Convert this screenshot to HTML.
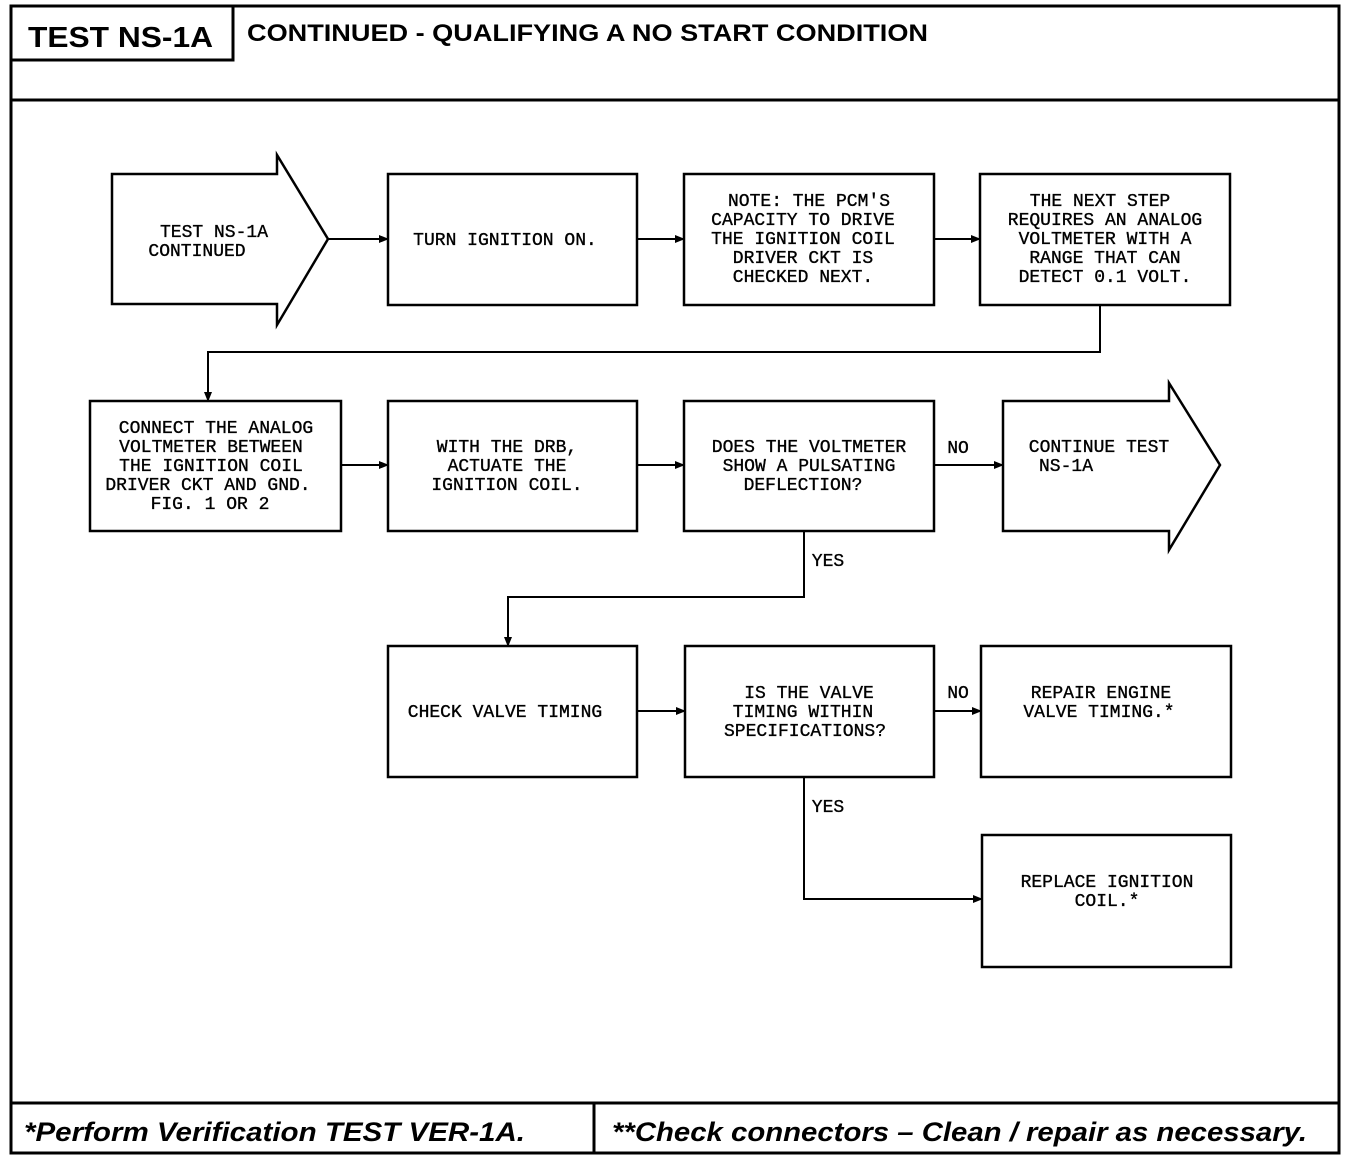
<!DOCTYPE html>
<html><head><style>
body{margin:0;background:#fff}
svg{display:block}
.t{font-family:"Liberation Mono",monospace;font-size:18px;fill:#000;text-anchor:middle;stroke:#000;stroke-width:0.35}
.h{font-family:"Liberation Sans",sans-serif;font-weight:bold;fill:#000}
</style></head><body>
<svg width="1360" height="1162" viewBox="0 0 1360 1162">
<defs><marker id="a" markerWidth="10" markerHeight="8" refX="9" refY="4" orient="auto" markerUnits="userSpaceOnUse"><path d="M0,0 L10,4 L0,8z"/></marker></defs>
<g fill="none" stroke="#000" stroke-width="3">
<rect x="11" y="6" width="1328" height="1147"/>
<line x1="11" y1="100" x2="1339" y2="100"/>
<polyline points="11,60 233,60 233,6"/>
<line x1="11" y1="1103" x2="1339" y2="1103"/>
<line x1="594" y1="1103" x2="594" y2="1153"/>
</g>
<text class="h" x="28" y="47" font-size="29" textLength="185" lengthAdjust="spacingAndGlyphs">TEST NS-1A</text>
<text class="h" x="247" y="41" font-size="24" textLength="681" lengthAdjust="spacingAndGlyphs">CONTINUED -  QUALIFYING A NO START CONDITION</text>
<text class="h" x="24" y="1141" font-size="27" font-style="italic" textLength="501" lengthAdjust="spacingAndGlyphs">*Perform Verification TEST VER-1A.</text>
<text class="h" x="612" y="1141" font-size="27" font-style="italic" textLength="695" lengthAdjust="spacingAndGlyphs">**Check connectors – Clean / repair as necessary.</text>
<g fill="none" stroke="#000" stroke-width="2.5">
<path d="M112,174 H277 V155 L328,239 L277,325 V304 H112 Z"/>
<rect x="388" y="174" width="249" height="131"/>
<rect x="684" y="174" width="250" height="131"/>
<rect x="980" y="174" width="250" height="131"/>
<rect x="90" y="401" width="251" height="130"/>
<rect x="388" y="401" width="249" height="130"/>
<rect x="684" y="401" width="250" height="130"/>
<path d="M1003,401 H1169 V383 L1220,465 L1169,550 V531 H1003 Z"/>
<rect x="388" y="646" width="249" height="131"/>
<rect x="685" y="646" width="249" height="131"/>
<rect x="981" y="646" width="250" height="131"/>
<rect x="982" y="835" width="249" height="132"/>
</g>
<g fill="none" stroke="#000" stroke-width="2" marker-end="url(#a)">
<line x1="328" y1="239" x2="388" y2="239"/>
<line x1="637" y1="239" x2="684" y2="239"/>
<line x1="934" y1="239" x2="980" y2="239"/>
<polyline points="1100,305 1100,352 208,352 208,401"/>
<line x1="341" y1="465" x2="388" y2="465"/>
<line x1="637" y1="465" x2="684" y2="465"/>
<line x1="934" y1="465" x2="1003" y2="465"/>
<polyline points="804,531 804,597 508,597 508,646"/>
<line x1="637" y1="711" x2="685" y2="711"/>
<line x1="934" y1="711" x2="981" y2="711"/>
<polyline points="804,777 804,899 982,899"/>
</g>
<text class="t" x="214" y="237">TEST NS-1A</text>
<text class="t" x="197" y="256">CONTINUED</text>
<text class="t" x="505" y="245">TURN IGNITION ON.</text>
<text class="t" x="809" y="206">NOTE: THE PCM'S</text>
<text class="t" x="803" y="225">CAPACITY TO DRIVE</text>
<text class="t" x="803" y="244">THE IGNITION COIL</text>
<text class="t" x="803" y="263">DRIVER CKT IS</text>
<text class="t" x="803" y="282">CHECKED NEXT.</text>
<text class="t" x="1100" y="206">THE NEXT STEP</text>
<text class="t" x="1105" y="225">REQUIRES AN ANALOG</text>
<text class="t" x="1105" y="244">VOLTMETER WITH A</text>
<text class="t" x="1105" y="263">RANGE THAT CAN</text>
<text class="t" x="1105" y="282">DETECT 0.1 VOLT.</text>
<text class="t" x="216" y="433">CONNECT THE ANALOG</text>
<text class="t" x="211" y="452">VOLTMETER BETWEEN</text>
<text class="t" x="211" y="471">THE IGNITION COIL</text>
<text class="t" x="208" y="490">DRIVER CKT AND GND.</text>
<text class="t" x="210" y="509">FIG. 1 OR 2</text>
<text class="t" x="507" y="452">WITH THE DRB,</text>
<text class="t" x="507" y="471">ACTUATE THE</text>
<text class="t" x="507" y="490">IGNITION COIL.</text>
<text class="t" x="809" y="452">DOES THE VOLTMETER</text>
<text class="t" x="809" y="471">SHOW A PULSATING</text>
<text class="t" x="803" y="490">DEFLECTION?</text>
<text class="t" x="958" y="453">NO</text>
<text class="t" x="1099" y="452">CONTINUE TEST</text>
<text class="t" x="1066" y="471">NS-1A</text>
<text class="t" x="828" y="566">YES</text>
<text class="t" x="505" y="717">CHECK VALVE TIMING</text>
<text class="t" x="809" y="698">IS THE VALVE</text>
<text class="t" x="803" y="717">TIMING WITHIN</text>
<text class="t" x="805" y="736">SPECIFICATIONS?</text>
<text class="t" x="958" y="698">NO</text>
<text class="t" x="1101" y="698">REPAIR ENGINE</text>
<text class="t" x="1099" y="717">VALVE TIMING.*</text>
<text class="t" x="828" y="812">YES</text>
<text class="t" x="1107" y="887">REPLACE IGNITION</text>
<text class="t" x="1107" y="906">COIL.*</text>
</svg>
</body></html>
